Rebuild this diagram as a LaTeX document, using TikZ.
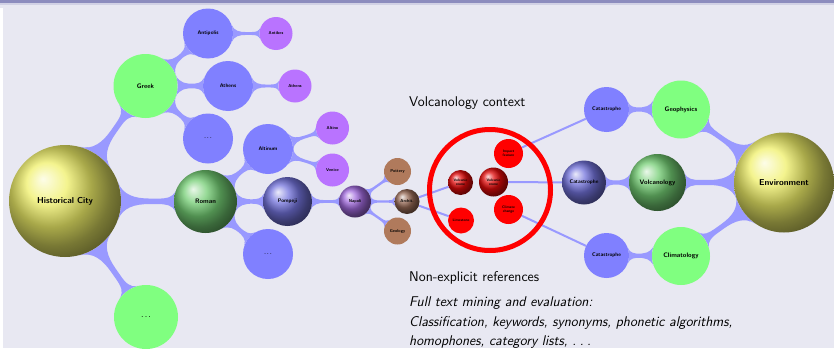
\documentclass[tikz,border=0pt]{standalone}
\usepackage{fontspec}
\usetikzlibrary{mindmap,shadings,backgrounds}
\definecolor{bgc}{RGB}{232,232,242}
\definecolor{barc}{RGB}{140,140,190}
\definecolor{connc}{RGB}{153,153,255}
\definecolor{flatblue}{RGB}{128,128,255}
\definecolor{flatgreen}{RGB}{128,255,128}
\definecolor{flatpurple}{RGB}{185,115,255}
\definecolor{flatbrown}{RGB}{176,122,92}
\definecolor{flatred}{RGB}{255,0,0}
\definecolor{ballyellow}{RGB}{240,240,105}
\definecolor{ballgreen}{RGB}{115,205,115}
\definecolor{ballblue}{RGB}{115,115,220}
\definecolor{ballpurple}{RGB}{160,105,220}
\definecolor{ballbrown}{RGB}{150,105,85}
\definecolor{ballred}{RGB}{225,10,10}
\newcommand{\sdots}{.\kern0.25em.\kern0.25em.}
\tikzset{
  cn/.style={circle, inner sep=0pt, text=black, align=center, font=\sffamily\bfseries},
  r/.style={minimum size=2*#1},
  fb/.style={cn, fill=flatblue},
  fg/.style={cn, fill=flatgreen},
  fp/.style={cn, fill=flatpurple},
  fbr/.style={cn, fill=flatbrown},
  fr/.style={cn, fill=flatred},
  by/.style={cn, ball color=ballyellow},
  bg/.style={cn, ball color=ballgreen},
  bb/.style={cn, ball color=ballblue},
  bp/.style={cn, ball color=ballpurple},
  bbr/.style={cn, ball color=ballbrown},
  brd/.style={cn, ball color=ballred},
  bar/.style={circle connection bar switch color=from (connc) to (connc)},
  thinline/.style={draw=connc, line width=2pt},
  fA/.style={font=\sffamily\bfseries\fontsize{8.6}{9.5}\selectfont},
  fB/.style={font=\sffamily\bfseries\fontsize{6.5}{7.5}\selectfont},
  fC/.style={font=\sffamily\bfseries\fontsize{5.2}{6}\selectfont},
  fD/.style={font=\sffamily\bfseries\fontsize{4.2}{4.8}\selectfont},
  fE/.style={font=\sffamily\bfseries\fontsize{3.6}{4.2}\selectfont},
  txt/.style={anchor=base west, inner sep=0pt, font=\sffamily\fontsize{14.1}{16}\selectfont},
  itxt/.style={txt, font=\sffamily\itshape\fontsize{14.1}{16}\selectfont},
}
\begin{document}
\begin{tikzpicture}[x=1pt,y=-1pt]
\useasboundingbox (0,0) rectangle (834,348);
\begin{scope}[on background layer]
\fill[bgc] (0,0) rectangle (834,348);
\fill[white] (0,8) rectangle (3,348);
\fill[barc] (0,0) rectangle (834,2.5);
\fill[barc!40!white] (0,2.5) rectangle (834,5);
\end{scope}

% nodes
\node[by, r=56pt, fA] (hc) at (65,201) {Historical City};
\node[fg, r=32pt, fB] (greek) at (145.5,86) {Greek};
\node[fb, r=25pt, fC] (antipolis) at (208,33.5) {Antipolis};
\node[fp, r=16.5pt, fD] (antibes) at (276,33.5) {Antibes};
\node[fb, r=25pt, fC] (athensb) at (228,86) {Athens};
\node[fp, r=16.5pt, fD] (athensp) at (295,86) {Athens};
\node[fb, r=25pt, fC] (gdots) at (208,138.5) {\sdots};
\node[bg, r=31.5pt, fB] (roman) at (205.5,201.5) {Roman};
\node[fb, r=25pt, fC] (altinum) at (268,149) {Altinum};
\node[fp, r=16.5pt, fD] (altino) at (332.5,128) {Altino};
\node[fp, r=16.5pt, fD] (venice) at (332.5,170) {Venice};
\node[fb, r=25pt, fC] (rdots) at (268,254) {\sdots};
\node[bb, r=24.5pt, fC] (pompeji) at (287.5,201.5) {Pompeji};
\node[bp, r=16pt, fD] (napoli) at (355,201.5) {Napoli};
\node[fbr, r=13.5pt, fD] (pottery) at (397.5,171.5) {Pottery};
\node[bbr, r=12.5pt, fD] (archit) at (407,201.5) {Archit.};
\node[fbr, r=13.5pt, fD] (geology) at (397.5,231) {Geology};
\node[fg, r=32pt, fB] (hdots) at (146,317) {\sdots};

\node[brd, r=12.5pt, fE] (vsa) at (460.5,182.5) {Volcanic\\stone};
\node[brd, r=14.5pt, fE] (vsb) at (493.5,182) {Volcanic\\stone};
\node[fr, r=14.5pt, fE] (impact) at (508.5,153.5) {Impact\\feature};
\node[fr, r=14.5pt, fE] (climate) at (508.5,209.5) {Climate\\change};
\node[fr, r=13pt, fE] (lime) at (461,220.5) {Limestone};

\node[fb, r=22.5pt, fC] (catt) at (606.5,109.5) {Catastrophe};
\node[fg, r=29pt, fB] (geo) at (681,109.5) {Geophysics};
\node[bb, r=22pt, fC] (catm) at (584,182.5) {Catastrophe};
\node[bg, r=28.5pt, fB] (volc) at (657.5,182.5) {Volcanology};
\node[by, r=50pt, fA] (env) at (784,182.5) {Environment};
\node[fb, r=22.5pt, fC] (catb) at (606.5,255.5) {Catastrophe};
\node[fg, r=29pt, fB] (clim) at (681,256) {Climatology};

% ring
\node[circle, draw=flatred, line width=5pt, minimum size=121pt, inner sep=0pt] (ring) at (490,190) {};

% connections
\begin{scope}[on background layer]
\path[line width=4pt] (hc) to[bar] (greek);
\path[line width=4pt] (hc) to[bar] (roman);
\path[line width=4pt] (hc) to[bar] (hdots);
\path[line width=3pt] (greek) to[bar] (antipolis);
\path[line width=3pt] (greek) to[bar] (athensb);
\path[line width=3pt] (greek) to[bar] (gdots);
\path[line width=2.5pt] (antipolis) to[bar] (antibes);
\path[line width=2.5pt] (athensb) to[bar] (athensp);
\path[line width=3pt] (roman) to[bar] (altinum);
\path[line width=3pt] (roman) to[bar] (pompeji);
\path[line width=3pt] (roman) to[bar] (rdots);
\path[line width=2.5pt] (altinum) to[bar] (altino);
\path[line width=2.5pt] (altinum) to[bar] (venice);
\path[line width=2.5pt] (pompeji) to[bar] (napoli);
\path[line width=2pt] (napoli) to[bar] (pottery);
\path[line width=2pt] (napoli) to[bar] (archit);
\path[line width=2pt] (napoli) to[bar] (geology);
\path[line width=3pt] (catt) to[bar] (geo);
\path[line width=3pt] (catm) to[bar] (volc);
\path[line width=3pt] (catb) to[bar] (clim);
\path[line width=4pt] (geo) to[bar] (env);
\path[line width=4pt] (volc) to[bar] (env);
\path[line width=4pt] (clim) to[bar] (env);
\draw[thinline] (archit) -- (vsa);
\draw[thinline] (archit) -- (lime);
\draw[thinline] (vsb) -- (catm);
\draw[thinline] (catt) -- (impact);
\draw[thinline] (catb) -- (climate);
\end{scope}

% texts
\node[txt] (t1) at (409,106) {Volcanology context};
\node[txt] (t2) at (409,281) {Non-explicit references};
\node[itxt] (t3) at (409,306.5) {Full text mining and evaluation:};
\node[itxt] (t4) at (409,326) {Classification, keywords, synonyms, phonetic algorithms,};
\node[itxt] (t5) at (409,345) {homophones, category lists, \sdots};
\end{tikzpicture}
\end{document}
